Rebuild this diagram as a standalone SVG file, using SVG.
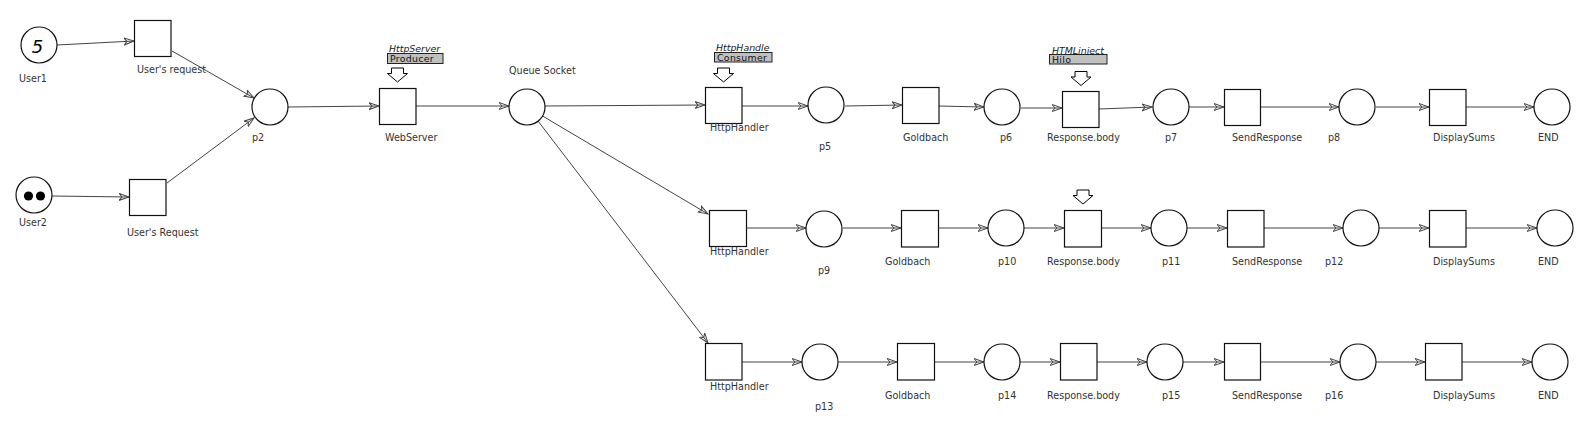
<svg xmlns="http://www.w3.org/2000/svg" width="1591" height="424" viewBox="0 0 1591 424">
<defs>
<marker id="arr" markerWidth="12" markerHeight="10" refX="10" refY="4" orient="auto" markerUnits="userSpaceOnUse">
<path d="M0,0.5 L10,4 L0,7.5 L3,4 Z" fill="none" stroke="#444" stroke-width="1"/>
</marker>
<polygon id="ann" points="-6,0 6,0 6,5.5 10,5.5 0,14 -10,5.5 -6,5.5" fill="#fff" stroke="#000" stroke-width="1"/>
</defs>
<style>
.pl{fill:#fff;stroke:#111;stroke-width:1.2}
.tr{fill:#fff;stroke:#111;stroke-width:1.2}
.lb{font-family:"DejaVu Sans",sans-serif;font-size:9.6px;fill:#333}
.an{font-family:"DejaVu Sans",sans-serif;font-size:9.4px;font-style:italic;fill:#222;text-decoration:underline}
.ab{fill:#c0c0c0;stroke:#222;stroke-width:1}
.at{font-family:"DejaVu Sans",sans-serif;font-size:9.4px;fill:#111;letter-spacing:0.3px}
.cn line{stroke:#444;stroke-width:1;marker-end:url(#arr)}
</style>
<rect width="1591" height="424" fill="#fff"/>

<g class="cn" id="connectors">
<line x1="57" y1="45" x2="134" y2="41"/>
<line x1="172" y1="51" x2="254" y2="98"/>
<line x1="52" y1="196" x2="129" y2="197"/>
<line x1="167" y1="183" x2="254" y2="118"/>
<line x1="288" y1="107" x2="379" y2="106"/>
<line x1="416" y1="106" x2="509" y2="106"/>
<line x1="545" y1="106" x2="705" y2="105"/>
<line x1="542.5" y1="116" x2="708" y2="214"/>
<line x1="538" y1="121" x2="708" y2="343"/>
<line x1="742" y1="106" x2="808" y2="106"/>
<line x1="845" y1="106" x2="902" y2="105"/>
<line x1="939" y1="106" x2="984" y2="107"/>
<line x1="1021" y1="108" x2="1062" y2="108"/>
<line x1="1099" y1="109" x2="1152" y2="107"/>
<line x1="1189" y1="107" x2="1224" y2="107"/>
<line x1="1260" y1="107" x2="1339" y2="107"/>
<line x1="1376" y1="107" x2="1429" y2="107"/>
<line x1="1466" y1="107" x2="1534" y2="107"/>
<line x1="747" y1="228" x2="806" y2="228"/>
<line x1="843" y1="228" x2="901" y2="228"/>
<line x1="939" y1="228" x2="988" y2="228"/>
<line x1="1024" y1="228" x2="1064" y2="228"/>
<line x1="1102" y1="228" x2="1151" y2="228"/>
<line x1="1187" y1="228" x2="1227" y2="228"/>
<line x1="1264" y1="228" x2="1343" y2="228"/>
<line x1="1379" y1="228" x2="1429" y2="228"/>
<line x1="1466" y1="228" x2="1537" y2="228"/>
<line x1="742" y1="362" x2="802" y2="362"/>
<line x1="838" y1="362" x2="897" y2="362"/>
<line x1="935" y1="362" x2="984" y2="362"/>
<line x1="1020" y1="362" x2="1060" y2="362"/>
<line x1="1097" y1="362" x2="1147" y2="362"/>
<line x1="1183" y1="362" x2="1224" y2="362"/>
<line x1="1260" y1="362" x2="1340" y2="362"/>
<line x1="1376" y1="362" x2="1425" y2="362"/>
<line x1="1462" y1="362" x2="1532" y2="362"/>
</g>

<g id="User1"><circle class="pl" cx="39" cy="45" r="18"/><text x="37.5" y="53" text-anchor="middle" style="font-family:'DejaVu Sans',sans-serif;font-size:18px;font-style:italic;fill:#000">5</text><text class="lb" x="19" y="82">User1</text></g>
<g id="UsersRequest1"><rect class="tr" x="134.5" y="20.5" width="36.5" height="36"/><text class="lb" x="137" y="73">User's request</text></g>
<g id="User2"><circle class="pl" cx="34" cy="195" r="18"/><circle cx="28.5" cy="196" r="4.6" fill="#000"/><circle cx="40.5" cy="196" r="4.6" fill="#000"/><text class="lb" x="19" y="225.5">User2</text></g>
<g id="UsersRequest2"><rect class="tr" x="129.5" y="179.5" width="36.5" height="36"/><text class="lb" x="127" y="235.5">User's Request</text></g>
<g id="p2"><circle class="pl" cx="270" cy="107" r="18"/><text class="lb" x="252" y="140.5">p2</text></g>
<g id="WebServer"><rect class="tr" x="379.5" y="88.5" width="36.5" height="36"/><text class="lb" x="385" y="140.5">WebServer</text>
<text class="an" x="389" y="52">HttpServer</text><rect class="ab" x="387.5" y="53.5" width="55.5" height="10"/><text class="at" x="390" y="61.5">Producer</text><use href="#ann" x="397.5" y="68"/></g>
<g id="QueueSocket"><circle class="pl" cx="527" cy="107" r="18"/><text class="lb" x="509" y="73.5">Queue Socket</text></g>

<g id="HttpHandler1"><rect class="tr" x="705.5" y="87.5" width="36.5" height="36"/><text class="lb" x="710" y="131">HttpHandler</text>
<text class="an" x="716" y="51">HttpHandle</text><rect class="ab" x="714.5" y="52.5" width="57.5" height="9.5"/><text class="at" x="717" y="60.5">Consumer</text><use href="#ann" x="723.5" y="68"/></g>
<g id="p5"><circle class="pl" cx="826" cy="105" r="18"/><text class="lb" x="819" y="150">p5</text></g>
<g id="Goldbach1"><rect class="tr" x="902.5" y="87.5" width="36.5" height="36"/><text class="lb" x="903" y="140.5">Goldbach</text></g>
<g id="p6"><circle class="pl" cx="1002" cy="107" r="18"/><text class="lb" x="1000" y="140.5">p6</text></g>
<g id="ResponseBody1"><rect class="tr" x="1062.5" y="91.5" width="36.5" height="36"/><text class="lb" x="1047" y="140.5">Response.body</text>
<text class="an" x="1052" y="54">HTMLinject</text><rect class="ab" x="1049.5" y="54.5" width="57.5" height="9.5"/><text class="at" x="1052" y="62.5">Hilo</text><use href="#ann" x="1081" y="71.5"/></g>
<g id="p7"><circle class="pl" cx="1171" cy="107" r="18"/><text class="lb" x="1165" y="140.5">p7</text></g>
<g id="SendResponse1"><rect class="tr" x="1224.5" y="89.5" width="36" height="36"/><text class="lb" x="1232" y="140.5">SendResponse</text></g>
<g id="p8"><circle class="pl" cx="1357" cy="107" r="18"/><text class="lb" x="1328" y="140.5">p8</text></g>
<g id="DisplaySums1"><rect class="tr" x="1429.5" y="89.5" width="36.5" height="36"/><text class="lb" x="1433" y="140.5">DisplaySums</text></g>
<g id="END1"><circle class="pl" cx="1552" cy="107" r="18"/><text class="lb" x="1538" y="140.5">END</text></g>

<g id="HttpHandler2"><rect class="tr" x="709.5" y="210.5" width="37" height="36"/><text class="lb" x="710" y="255">HttpHandler</text></g>
<g id="p9"><circle class="pl" cx="824" cy="229" r="18"/><text class="lb" x="818" y="274">p9</text></g>
<g id="Goldbach2"><rect class="tr" x="901.5" y="210.5" width="37" height="36.5"/><text class="lb" x="885" y="265">Goldbach</text></g>
<g id="p10"><circle class="pl" cx="1006" cy="228" r="18"/><text class="lb" x="998" y="265">p10</text></g>
<g id="ResponseBody2"><rect class="tr" x="1064.5" y="210.5" width="37" height="36.5"/><text class="lb" x="1047" y="265">Response.body</text><use href="#ann" x="1083" y="190"/></g>
<g id="p11"><circle class="pl" cx="1169" cy="228" r="18"/><text class="lb" x="1162" y="265">p11</text></g>
<g id="SendResponse2"><rect class="tr" x="1227.5" y="210.5" width="36.5" height="36.5"/><text class="lb" x="1232" y="265">SendResponse</text></g>
<g id="p12"><circle class="pl" cx="1361" cy="228" r="18"/><text class="lb" x="1325" y="265">p12</text></g>
<g id="DisplaySums2"><rect class="tr" x="1429.5" y="210.5" width="36.5" height="36.5"/><text class="lb" x="1433" y="265">DisplaySums</text></g>
<g id="END2"><circle class="pl" cx="1555" cy="228" r="18"/><text class="lb" x="1538" y="265">END</text></g>

<g id="HttpHandler3"><rect class="tr" x="705.5" y="343.5" width="36.5" height="36.5"/><text class="lb" x="710" y="390">HttpHandler</text></g>
<g id="p13"><circle class="pl" cx="820" cy="362" r="18"/><text class="lb" x="815" y="410">p13</text></g>
<g id="Goldbach3"><rect class="tr" x="897.5" y="343.5" width="37" height="36.5"/><text class="lb" x="885" y="399">Goldbach</text></g>
<g id="p14"><circle class="pl" cx="1002" cy="362" r="18"/><text class="lb" x="998" y="399">p14</text></g>
<g id="ResponseBody3"><rect class="tr" x="1060.5" y="343.5" width="36.5" height="36.5"/><text class="lb" x="1047" y="399">Response.body</text></g>
<g id="p15"><circle class="pl" cx="1165" cy="362" r="18"/><text class="lb" x="1162" y="399">p15</text></g>
<g id="SendResponse3"><rect class="tr" x="1224.5" y="343.5" width="36" height="36.5"/><text class="lb" x="1232" y="399">SendResponse</text></g>
<g id="p16"><circle class="pl" cx="1358" cy="362" r="18"/><text class="lb" x="1325" y="399">p16</text></g>
<g id="DisplaySums3"><rect class="tr" x="1425.5" y="343.5" width="36.5" height="36.5"/><text class="lb" x="1433" y="399">DisplaySums</text></g>
<g id="END3"><circle class="pl" cx="1550" cy="362" r="18"/><text class="lb" x="1538" y="399">END</text></g>
</svg>
